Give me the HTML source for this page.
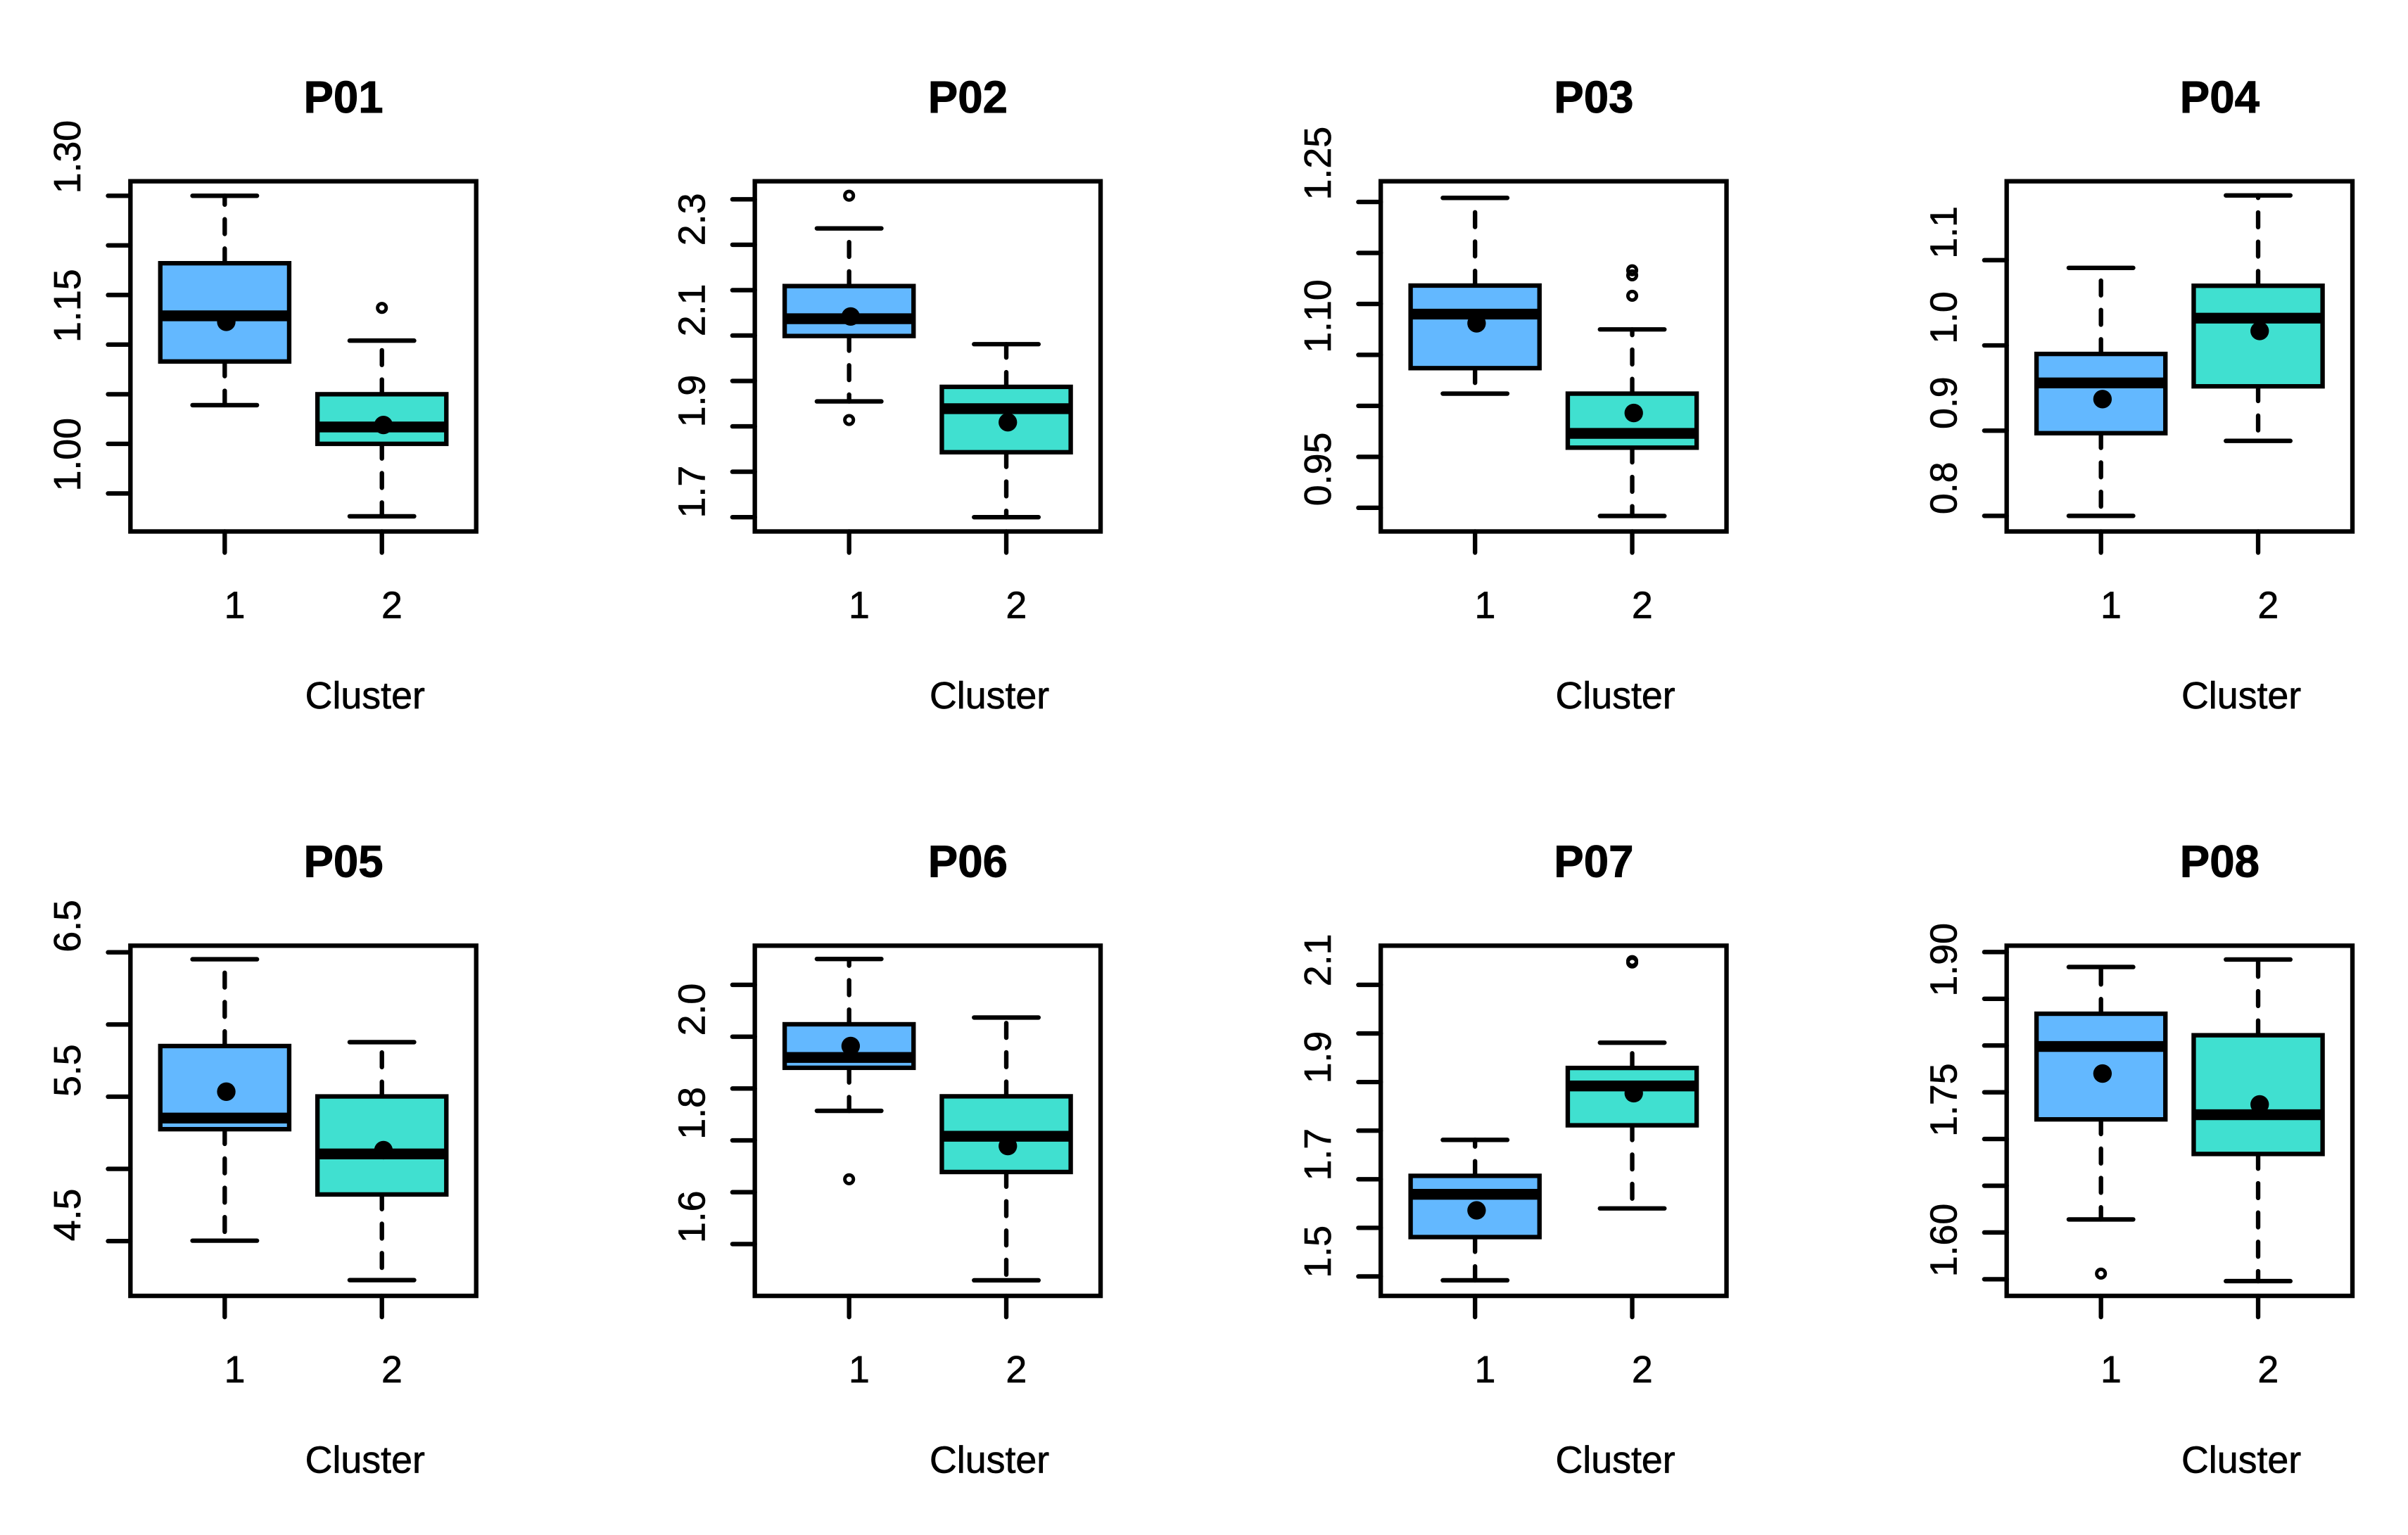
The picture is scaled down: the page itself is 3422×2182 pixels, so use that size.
<!DOCTYPE html>
<html><head><meta charset="utf-8"><style>html,body{margin:0;padding:0;background:#fff}svg{display:block}</style></head>
<body>
<svg id="chart" xmlns="http://www.w3.org/2000/svg" width="3422" height="2182" viewBox="0 0 1560 995" preserveAspectRatio="none" font-family="'Liberation Sans', sans-serif"></svg>
<script>
// ---- data ----
const titles = ["P01","P02","P03","P04","P05","P06","P07","P08"];
const categories = ["1","2"];
// [lower whisker, Q1, median, Q3, upper whisker]
const c1Stats = [
  [1.039,1.083,1.129,1.182,1.250],
  [1.855,1.999,2.037,2.109,2.236],
  [1.012,1.037,1.090,1.118,1.204],
  [0.800,0.897,0.956,0.990,1.091],
  [4.503,5.275,5.352,5.851,6.452],
  [1.757,1.840,1.860,1.924,2.050],
  [1.492,1.581,1.669,1.707,1.781],
  [1.614,1.721,1.799,1.834,1.884]
];
const c2Stats = [
  [0.927,1.000,1.017,1.050,1.104],
  [1.600,1.743,1.839,1.887,1.981],
  [0.892,0.959,0.973,1.012,1.075],
  [0.888,0.952,1.032,1.070,1.176],
  [4.230,4.823,5.104,5.502,5.878],
  [1.430,1.639,1.708,1.785,1.937],
  [1.640,1.811,1.892,1.929,1.981],
  [1.548,1.684,1.726,1.811,1.892]
];
const c1Means = [1.123,2.042,1.081,0.937,5.535,1.882,1.636,1.770];
const c2Means = [1.019,1.809,0.993,1.017,5.130,1.689,1.877,1.737];
const c1Outliers = [[],[2.308,1.814],[],[],[],[1.625],[],[1.556]];
const c2Outliers = [[1.137],[],[1.133,1.128,1.108],[],[],[],[2.149,2.146],[]];
// y domains [bottom, top]
const yDomains = [[0.9117,1.2646],[1.5685,2.3398],[0.8768,1.2203],[0.7817,1.1926],
                  [4.1207,6.546],[1.40,2.0756],[1.46,2.1806],[1.5322,1.9068]];
const yTicks = [
  [0.95,1.00,1.05,1.10,1.15,1.20,1.25],
  [1.6,1.7,1.8,1.9,2.0,2.1,2.2,2.3],
  [0.90,0.95,1.00,1.05,1.10,1.15,1.20],
  [0.8,0.9,1.0,1.1],
  [4.5,5.0,5.5,6.0,6.5],
  [1.5,1.6,1.7,1.8,1.9,2.0],
  [1.5,1.6,1.7,1.8,1.9,2.0,2.1],
  [1.55,1.60,1.65,1.70,1.75,1.80,1.85,1.90]
];
const yLabels = [
  ["1.00","1.15","1.30"],["1.7","1.9","2.1","2.3"],["0.95","1.10","1.25"],["0.8","0.9","1.0","1.1"],
  ["4.5","5.5","6.5"],["1.6","1.8","2.0"],["1.5","1.7","1.9","2.1"],["1.60","1.75","1.90"]
];
// label placement quirk (pixel shift, styling)
const labelShift = [7,13,8,-18,-17,16,-16,5];

// ---- layout ----
const NS = "http://www.w3.org/2000/svg";
const svg = document.getElementById("chart");
const colLeft = [84.5,489,894.5,1300];
const rowTop = [117.5,613];
const W = 224, H = 227;
const fills = ["#63B8FF","#40E0D0"];
const LW = 2.9;

function mk(tag, attrs, parent){
  const e = document.createElementNS(NS, tag);
  for (const k in attrs) e.setAttribute(k, attrs[k]);
  (parent||svg).appendChild(e);
  return e;
}

titles.forEach((t, p) => {
  const L = colLeft[p % 4], T = rowTop[Math.floor(p / 4)], B = T + H;
  const [d0, d1] = yDomains[p];
  const y = v => B - (v - d0) / (d1 - d0) * H;
  const x = i => L + (i + 1 - 0.4) / 2.2 * W;   // i = 0,1
  const xu = W / 2.2;

  const g = mk("g", {});
  
  

  const title = mk("text", {x: L + 138, y: T - 44.5, "text-anchor": "middle", "font-size": 29, "font-weight": "bold", fill: "#000", stroke: "#000", "stroke-width": 0.4}, g);
  title.textContent = t;
  
  

  // y ticks
  yTicks[p].forEach(v => {
    const tk = mk("line", {x1: L - 14.5, x2: L, y1: y(v), y2: y(v), stroke: "#000", "stroke-width": LW, "stroke-linecap": "round"}, g);
    
    
  });
  yLabels[p].forEach(s => {
    const yy = y(parseFloat(s)) + labelShift[p];
    const lb = mk("text", {x: L - 32.5, y: yy, transform: `rotate(-90 ${L - 32.5} ${yy})`, "text-anchor": "middle", "font-size": 24.5, fill: "#000", stroke: "#000", "stroke-width": 0.3}, g);
    lb.textContent = s;
    
    
  });

  // x ticks and labels
  categories.forEach((c, i) => {
    const tk = mk("line", {x1: x(i), x2: x(i), y1: B, y2: B + 13.7, stroke: "#000", "stroke-width": LW, "stroke-linecap": "round"}, g);
    
    
    const lb = mk("text", {x: x(i) + 6.5, y: B + 56, "text-anchor": "middle", "font-size": 24.5, fill: "#000", stroke: "#000", "stroke-width": 0.3}, g);
    lb.textContent = c;
    
    
  });
  const xt = mk("text", {x: L + 152, y: B + 114.7, "text-anchor": "middle", "font-size": 24.5, fill: "#000", stroke: "#000", "stroke-width": 0.3}, g);
  xt.textContent = "Cluster";
  
  

  // boxes
  [[c1Stats, c1Means, c1Outliers], [c2Stats, c2Means, c2Outliers]].forEach(([st, mn, ou], i) => {
    const [lo, q1, med, q3, hi] = st[p];
    const cx = x(i), hw = 0.41 * xu, cw = 0.205 * xu;
    const bg = mk("g", {}, g);
    
    
    [[q3, hi], [q1, lo]].forEach(([a, b]) => {
      const w = mk("line", {x1: cx, x2: cx, y1: y(a), y2: y(b), stroke: "#000", "stroke-width": LW, "stroke-dasharray": "9.5 9.5", "stroke-linecap": "round"}, bg);
      
      
      const cap = mk("line", {x1: cx - cw, x2: cx + cw, y1: y(b), y2: y(b), stroke: "#000", "stroke-width": LW, "stroke-linecap": "round"}, bg);
      
      
    });
    const r = mk("rect", {x: cx - hw, y: y(q3), width: 2 * hw, height: y(q1) - y(q3), fill: fills[i], stroke: "#000", "stroke-width": LW}, bg);
    
    
    const m = mk("line", {x1: cx - hw, x2: cx + hw, y1: y(med), y2: y(med), stroke: "#000", "stroke-width": 7}, bg);
    
    
    const dot = mk("circle", {cx: cx + 1, cy: y(mn[p]), r: 6, fill: "#000"}, bg);
    
    
    ou[p].forEach(v => {
      const o = mk("circle", {cx: cx, cy: y(v), r: 2.8, fill: "none", stroke: "#000", "stroke-width": 2.2}, bg);
      
      
    });
  });

  const fr = mk("rect", {x: L, y: T, width: W, height: H, fill: "none", stroke: "#000", "stroke-width": LW}, g);
  
  
});
</script>
</body></html>
